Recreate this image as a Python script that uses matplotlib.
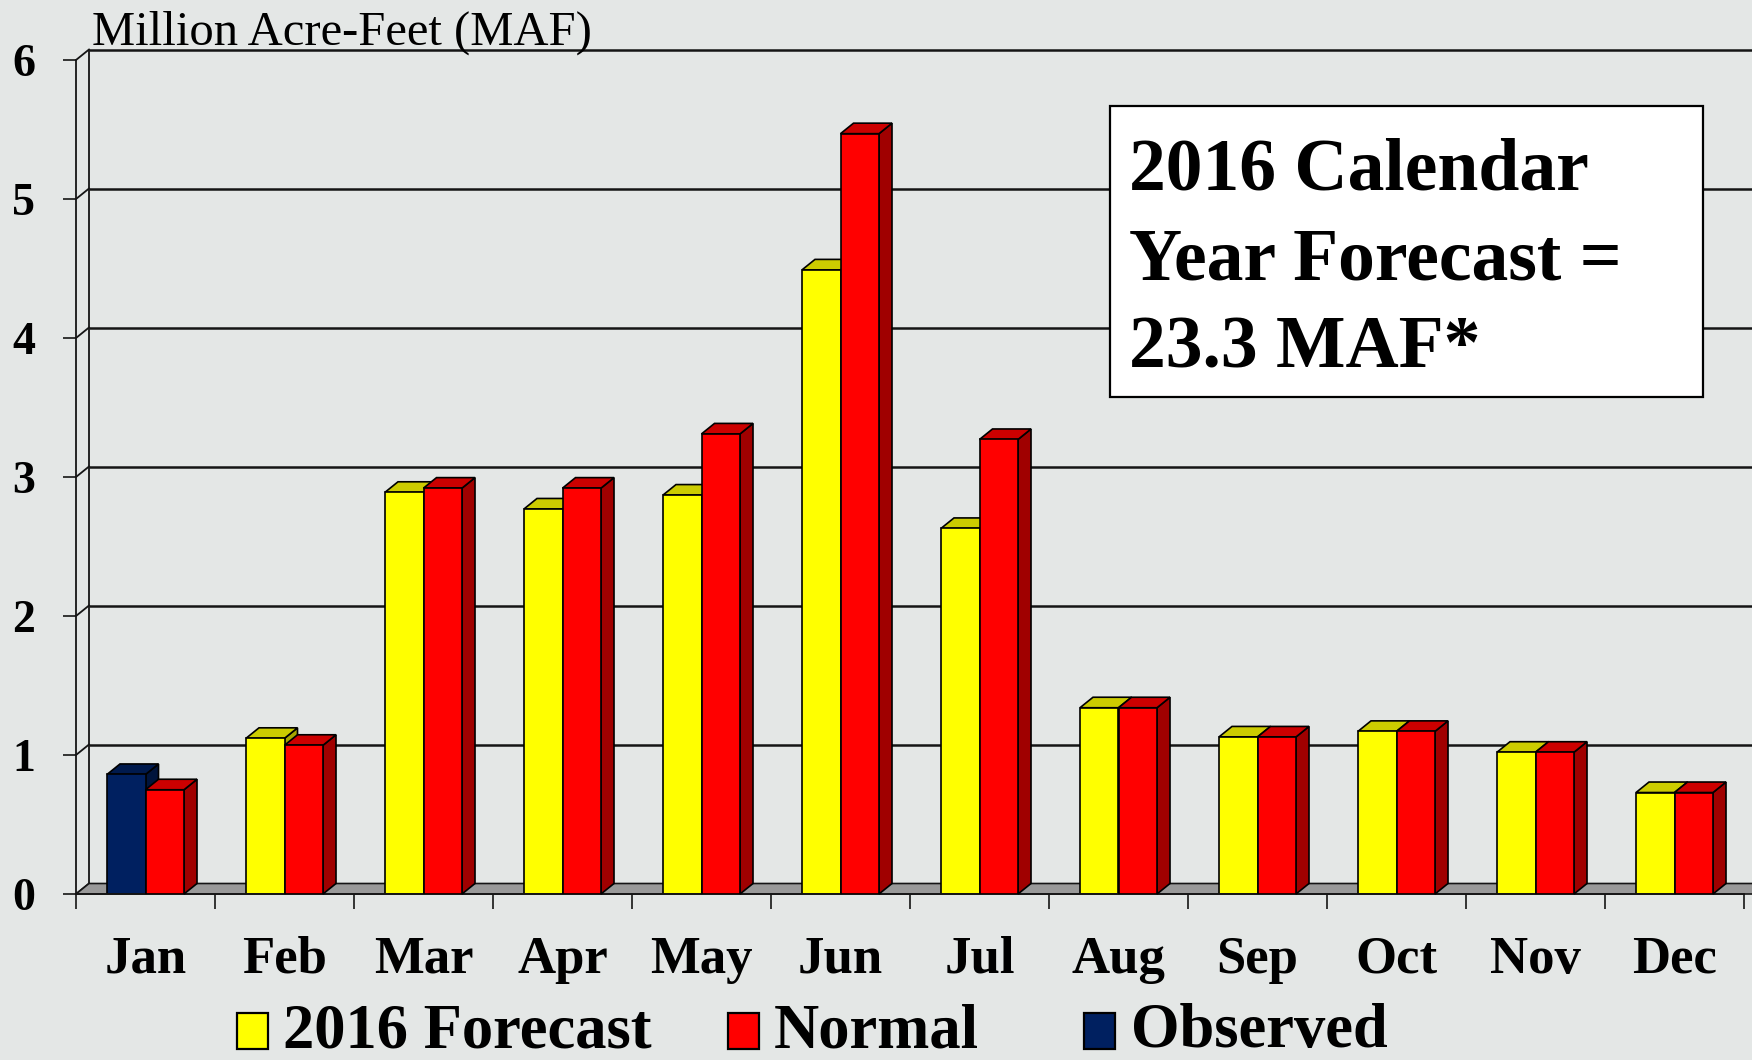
import matplotlib
matplotlib.use('Agg')
import matplotlib.pyplot as plt
from matplotlib.patches import Polygon, Rectangle
import numpy as np

# ---------------- data ----------------
months = ['Jan', 'Feb', 'Mar', 'Apr', 'May', 'Jun', 'Jul', 'Aug', 'Sep', 'Oct', 'Nov', 'Dec']
forecast_2016 = [np.nan, 1.12, 2.89, 2.77, 2.87, 4.49, 2.63, 1.34, 1.13, 1.17, 1.02, 0.73]
observed = [0.86, np.nan, np.nan, np.nan, np.nan, np.nan, np.nan, np.nan, np.nan, np.nan, np.nan, np.nan]
normal = [0.75, 1.07, 2.92, 2.92, 3.31, 5.47, 3.27, 1.34, 1.13, 1.17, 1.02, 0.73]
y_ticks = [0, 1, 2, 3, 4, 5, 6]
legend_labels = ['2016 Forecast', 'Normal', 'Observed']
box_lines = ['2016 Calendar', 'Year Forecast =', '23.3 MAF*']
unit_label = 'Million Acre-Feet (MAF)'

# ---------------- style ----------------
W, H = 1752, 1060
BG = '#e4e7e6'
SERIF = ['Liberation Serif', 'DejaVu Serif']
col_front = {'f': '#ffff00', 'n': '#ff0000', 'o': '#002060'}
col_top = {'f': '#cccc00', 'n': '#cc0000', 'o': '#001a4d'}
col_side = {'f': '#a6a600', 'n': '#a00000', 'o': '#00143c'}

fig = plt.figure(figsize=(W / 100, H / 100), dpi=100, facecolor=BG)

def fx(px):
    return px / W

def fy(py):
    return 1 - py / H

# main axes: front plane
left_px, right_px, zero_px, six_px = 76, 1744, 894, 60
ax = fig.add_axes([fx(left_px), fy(zero_px), fx(right_px - left_px), (zero_px - six_px) / H])
ax.set_xlim(0, 12)
ax.set_ylim(0, 6)
ax.patch.set_alpha(0)

px_per_x = (right_px - left_px) / 12.0
px_per_y = (zero_px - six_px) / 6.0
dxd = 13.0 / px_per_x   # depth offset in x data units
dyd = 10.5 / px_per_y   # depth offset in y data units

line_col = '#151515'

# back wall gridlines
for v in y_ticks:
    ax.plot([dxd, 12 + 2 * dxd], [v + dyd, v + dyd], color=line_col, lw=1.8,
            zorder=1, clip_on=False, solid_capstyle='butt')
    # side-wall diagonals
    ax.plot([0, dxd], [v, v + dyd], color=line_col, lw=1.3, zorder=1, clip_on=False)
# side wall back vertical
ax.plot([dxd, dxd], [dyd, 6 + dyd], color=line_col, lw=1.3, zorder=1, clip_on=False)

# floor
floor = Polygon([(0, 0), (12 + dxd, 0), (12 + 2 * dxd, dyd), (dxd, dyd)], closed=True,
                facecolor='#999999', edgecolor=line_col, lw=1.2, zorder=1.5, clip_on=False)
ax.add_patch(floor)

# bars
bw = 0.277
centers = np.arange(12) + 0.5

def draw_bar3d(x0, h, key, z):
    if np.isnan(h):
        return
    ax.bar(x0, h, width=bw, align='edge', color=col_front[key],
           edgecolor='black', lw=1.2, zorder=z + 0.5)
    x1 = x0 + bw
    side = Polygon([(x1, 0), (x1 + dxd, dyd), (x1 + dxd, h + dyd), (x1, h)], closed=True,
                   facecolor=col_side[key], edgecolor='black', lw=1.2, zorder=z, clip_on=False)
    top = Polygon([(x0, h), (x1, h), (x1 + dxd, h + dyd), (x0 + dxd, h + dyd)], closed=True,
                  facecolor=col_top[key], edgecolor='black', lw=1.2, zorder=z, clip_on=False)
    ax.add_patch(side)
    ax.add_patch(top)

for i in range(12):
    c = centers[i]
    draw_bar3d(c - bw, forecast_2016[i], 'f', 2)
    draw_bar3d(c - bw, observed[i], 'o', 2)
    draw_bar3d(c, normal[i], 'n', 4)

# axes spines and ticks
for s in ['top', 'right']:
    ax.spines[s].set_visible(False)
ax.spines['left'].set_color(line_col)
ax.spines['left'].set_linewidth(1.3)
ax.spines['bottom'].set_color(line_col)
ax.spines['bottom'].set_linewidth(1.3)
ax.spines['left'].set_zorder(6)

ax.set_yticks(y_ticks)
ax.set_yticklabels([str(t) for t in y_ticks], fontsize=33, fontweight='bold', family=SERIF)
ax.tick_params(axis='y', length=9.4, width=1.2, color=line_col, pad=20)

ax.set_xticks(np.arange(13))
ax.set_xticklabels([])
ax.set_xticks(centers, minor=True)
ax.set_xticklabels(months, minor=True, fontsize=38, fontweight='bold', family=SERIF)
ax.tick_params(axis='x', which='major', length=11, width=1.2, color=line_col)
ax.tick_params(axis='x', which='minor', length=0, pad=30)

# unit label
fig.text(fx(92), fy(45), unit_label, fontsize=35, family=SERIF, ha='left', va='baseline')

# annotation box
fig.patches.append(Rectangle((fx(1110), fy(397)), fx(1703 - 1110), (397 - 106) / H,
                             transform=fig.transFigure, facecolor='white',
                             edgecolor='black', lw=1.6, zorder=5))
for k, line in enumerate(box_lines):
    fig.text(fx(1129), fy(190 + 89 * k), line, fontsize=53, fontweight='bold',
             family=SERIF, ha='left', va='baseline', zorder=6)

# legend
leg_items = [(237, 283, 'f'), (728, 774, 'n'), (1084, 1131, 'o')]
for (sq_x, tx, key), lab in zip(leg_items, legend_labels):
    fig.patches.append(Rectangle((fx(sq_x), fy(1049)), fx(31), 36 / H,
                                 transform=fig.transFigure, facecolor=col_front[key],
                                 edgecolor='black', lw=1.6))
    fig.text(fx(tx), fy(1047), lab, fontsize=45, fontweight='bold', family=SERIF,
             ha='left', va='baseline')

fig.savefig('out.png', dpi=100, facecolor=BG)
